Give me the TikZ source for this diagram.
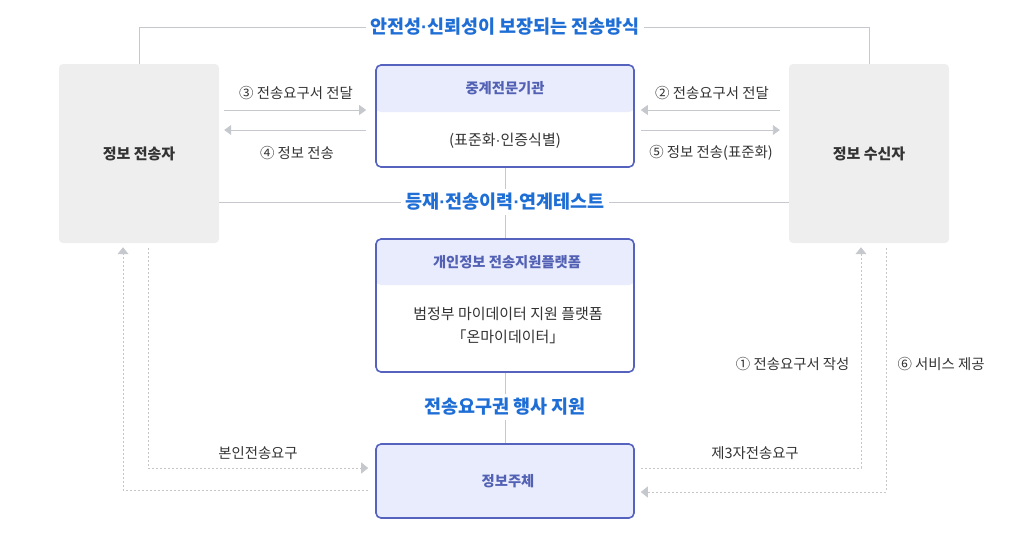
\documentclass[tikz,border=0pt]{standalone}
\usepackage{fontspec}
\setmainfont{Noto Sans CJK KR}
\newfontfamily\dotfont{Liberation Sans}
\usepackage{tikz}
\usetikzlibrary{calc,arrows.meta}
\definecolor{boxgray}{HTML}{EEEEEE}
\definecolor{rim}{HTML}{5563BE}
\definecolor{hdrfill}{HTML}{E8ECFC}
\definecolor{hdrtext}{HTML}{5361B5}
\definecolor{titleblue}{HTML}{1E6ED6}
\definecolor{guidegray}{HTML}{C5C9CE}
\definecolor{dotgray}{HTML}{C6C6C6}
\definecolor{ink}{HTML}{333333}
\newcommand{\mdot}{{\dotfont\bfseries ·}}

\tikzset{
  holder/.style={fill=boxgray, rounded corners=4pt, minimum width=160pt, minimum height=179pt,
    font=\fontsize{15}{18}\selectfont\bfseries, text=ink},
  agency/.style={draw=rim, line width=1.6pt, rounded corners=5pt, fill=white,
    minimum width=258pt, inner sep=0pt,
    path picture={\fill[hdrfill] (path picture bounding box.north west)
      rectangle ([yshift=-#1]path picture bounding box.north east);}},
  caption/.style={fill=white, inner sep=4pt, text=titleblue, font=\fontsize{18.5}{21}\selectfont\bfseries},
  head/.style={text=hdrtext, font=\fontsize{14.3}{17}\selectfont\bfseries},
  body/.style={text=ink, font=\fontsize{15}{23}\selectfont, align=center},
  lbl/.style={text=ink, font=\fontsize{14.4}{17}\selectfont},
  guide/.style={draw=guidegray, line width=0.9pt},
  flow/.style={guide, -{Triangle[length=7pt,width=10pt]}},
  dots/.style={draw=dotgray, line width=0.9pt, dash pattern=on 2pt off 2pt,
    -{Triangle[length=7pt,width=11pt,color=guidegray]}}
}

\begin{document}
\begin{tikzpicture}[x=1pt,y=-1pt]
  \useasboundingbox (0,0) rectangle (1010,558);

  % parties
  \node[holder] (sender) at (139,153.5) {정보 전송자};
  \node[holder] (receiver) at (869,153.5) {정보 수신자};

  % central bodies
  \node[agency=47pt, minimum height=102pt] (relay) at (505,116) {};
  \node[head] (relayhead) at (505,88) {중계전문기관};
  \node[body] (relaybody) at (505,141) {(표준화{\dotfont ·}인증식별)};

  \node[agency=46pt, minimum height=133pt] (platform) at (505,305.5) {};
  \node[head] (platformhead) at (507,262) {개인정보 전송지원플랫폼};
  \node[body] (platformbody) at (508,325) {범정부 마이데이터 지원 플랫폼\\「온마이데이터」};

  \node[agency=74pt, minimum height=74pt] (subject) at (505,481) {};
  \node[head] (subjecthead) at (508,481) {정보주체};

  % captions
  \node[caption] (safety) at (505,27) {안전성\mdot 신뢰성이 보장되는 전송방식};
  \node[caption] (registry) at (505,202) {등재\mdot 전송이력\mdot 연계테스트};
  \node[caption] (exercise) at (505,407) {전송요구권 행사 지원};

  \draw[guide] (sender.north) |- (safety.west);
  \draw[guide] (safety.east) -| (receiver.north);
  \draw[guide] (registry -| sender.east) -- (registry.west);
  \draw[guide] (registry.east) -- (registry -| receiver.west);
  \draw[guide] (relay.south) -- (registry.north);
  \draw[guide] (registry.south) -- (platform.north);
  \draw[guide] (platform.south) -- (exercise.north);
  \draw[guide] (exercise.south) -- (subject.north);

  % relay exchanges
  \draw[flow] ($(sender.east)+(5,-43.5)$) -- ($(relay.west)+(-9,-6)$);
  \draw[flow] ($(relay.west)+(-9,14)$) -- ($(sender.east)+(5,-23.5)$);
  \draw[flow] ($(receiver.west)+(-9,-43.5)$) -- ($(relay.east)+(6,-6)$);
  \draw[flow] ($(relay.east)+(6,14)$) -- ($(receiver.west)+(-9,-23.5)$);
  \node[lbl] (step3) at (296,93) {③ 전송요구서 전달};
  \node[lbl] (step4) at (297,153) {④ 정보 전송};
  \node[lbl] (step2) at (712,93) {② 전송요구서 전달};
  \node[lbl] (step5) at (711,153) {⑤ 정보 전송(표준화)};

  % requests by the subject
  \coordinate (selfturn) at (148,468);
  \coordinate (backturn) at (123,490);
  \coordinate (thirdturn) at (861,468);
  \coordinate (serveturn) at (886,492);
  \draw[dots] ($(sender.south)+(9,5)$) -- (selfturn) -- ($(subject.west)+(-7,-13)$);
  \draw[dots] ($(subject.west)+(-7,9)$) -- (backturn) -- ($(sender.south)+(-16,4)$);
  \draw[dots] ($(subject.east)+(6,-13)$) -- (thirdturn) -- ($(receiver.south)+(-8,4)$);
  \draw[dots] ($(receiver.south)+(17,5)$) -- (serveturn) -- ($(subject.east)+(6,11)$);
  \node[lbl] (selfreq) at (258,453) {본인전송요구};
  \node[lbl] (thirdreq) at (755,453) {제3자전송요구};
  \node[lbl, anchor=east] (step1) at (853,364) {① 전송요구서 작성};
  \node[lbl, anchor=west] (step6) at (894,364) {⑥ 서비스 제공};
\end{tikzpicture}
\end{document}
